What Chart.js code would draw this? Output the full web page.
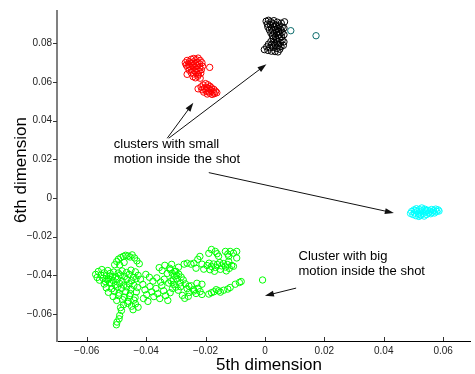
<!DOCTYPE html>
<html>
<head>
<meta charset="utf-8">
<script src="https://cdn.jsdelivr.net/npm/chart.js@4.4.1/dist/chart.umd.min.js"></script>
<style>
  html, body { margin: 0; padding: 0; background: #fff; overflow: hidden; }
  canvas { display: block; }
</style>
</head>
<body>
<canvas id="chart" width="475" height="374"></canvas>
<script>
// ---- data (5th / 6th dimension coordinates) ----
const xTicks = [-0.06, -0.04, -0.02, 0, 0.02, 0.04, 0.06];
const yTicks = [-0.06, -0.04, -0.02, 0, 0.02, 0.04, 0.06, 0.08];

const blackPts = [
  [0.0004,0.0915],[0.0012,0.0920],[0.0020,0.0912],[0.0030,0.0918],[0.0042,0.0910],[0.0055,0.0905],
  [0.0008,0.0900],[0.0018,0.0898],[0.0028,0.0902],[0.0038,0.0895],[0.0048,0.0890],[0.0058,0.0885],
  [0.0010,0.0885],[0.0022,0.0880],[0.0032,0.0886],[0.0044,0.0878],[0.0054,0.0870],
  [0.0015,0.0870],[0.0026,0.0866],[0.0036,0.0872],[0.0046,0.0862],[0.0058,0.0858],
  [0.0020,0.0855],[0.0030,0.0852],[0.0040,0.0856],[0.0050,0.0848],
  [0.0025,0.0840],[0.0035,0.0836],[0.0045,0.0840],[0.0056,0.0834],
  [0.0028,0.0825],[0.0038,0.0820],[0.0048,0.0826],[0.0058,0.0818],
  [0.0020,0.0810],[0.0030,0.0806],[0.0042,0.0810],[0.0052,0.0804],
  [0.0012,0.0796],[0.0022,0.0792],[0.0034,0.0796],[0.0046,0.0790],[0.0054,0.0784],
  [0.0006,0.0782],[0.0016,0.0778],[0.0028,0.0780],[0.0040,0.0774],[0.0050,0.0770],
  [-0.0002,0.0768],[0.0010,0.0764],[0.0022,0.0760],[0.0034,0.0758],[0.0044,0.0756],
  [0.0064,0.0808],[0.0064,0.0880],[0.0066,0.0912],[0.0062,0.0790],[0.0064,0.0845]
];

const tealPts = [[0.0087,0.0866],[0.0172,0.0840]];

const redPts = [
  [-0.0268,0.0700],[-0.0262,0.0712],[-0.0255,0.0705],[-0.0248,0.0718],[-0.0240,0.0722],[-0.0232,0.0716],[-0.0225,0.0724],[-0.0218,0.0712],
  [-0.0265,0.0688],[-0.0258,0.0692],[-0.0250,0.0698],[-0.0242,0.0704],[-0.0235,0.0696],[-0.0228,0.0702],[-0.0220,0.0694],[-0.0212,0.0700],
  [-0.0260,0.0676],[-0.0252,0.0680],[-0.0244,0.0684],[-0.0236,0.0678],[-0.0228,0.0684],[-0.0220,0.0676],[-0.0210,0.0682],
  [-0.0255,0.0662],[-0.0246,0.0666],[-0.0238,0.0660],[-0.0230,0.0666],[-0.0222,0.0658],[-0.0214,0.0664],
  [-0.0262,0.0640],[-0.0248,0.0648],[-0.0240,0.0642],[-0.0232,0.0650],[-0.0224,0.0640],[-0.0216,0.0646],
  [-0.0242,0.0628],[-0.0234,0.0622],[-0.0226,0.0630],[-0.0218,0.0620],
  [-0.0186,0.0676],
  [-0.0225,0.0565],[-0.0215,0.0575],[-0.0208,0.0585],[-0.0200,0.0592],[-0.0192,0.0586],[-0.0185,0.0578],
  [-0.0212,0.0560],[-0.0204,0.0568],[-0.0196,0.0572],[-0.0188,0.0566],[-0.0180,0.0570],[-0.0172,0.0562],
  [-0.0206,0.0548],[-0.0198,0.0554],[-0.0190,0.0550],[-0.0182,0.0556],[-0.0174,0.0548],[-0.0166,0.0552],
  [-0.0194,0.0538],[-0.0186,0.0542],[-0.0178,0.0536],[-0.0170,0.0540],[-0.0162,0.0545]
];

const cyanPts = [
  [0.0490,-0.0080],[0.0494,-0.0070],[0.0498,-0.0086],[0.0502,-0.0062],[0.0504,-0.0078],[0.0508,-0.0092],
  [0.0510,-0.0056],[0.0513,-0.0070],[0.0516,-0.0084],[0.0518,-0.0096],[0.0520,-0.0060],[0.0523,-0.0074],
  [0.0526,-0.0088],[0.0528,-0.0052],[0.0530,-0.0066],[0.0533,-0.0080],[0.0536,-0.0094],[0.0538,-0.0058],
  [0.0541,-0.0072],[0.0544,-0.0086],[0.0548,-0.0064],[0.0551,-0.0078],[0.0555,-0.0068],[0.0558,-0.0082],
  [0.0561,-0.0060],[0.0564,-0.0074],[0.0568,-0.0066],[0.0571,-0.0078],[0.0575,-0.0058],[0.0578,-0.0070],
  [0.0583,-0.0062],[0.0586,-0.0068],[0.0508,-0.0066],[0.0523,-0.0090],[0.0543,-0.0064]
];

const greenPts = [
  // left group
  [-0.0570,-0.0396],[-0.0565,-0.0412],[-0.0561,-0.0381],[-0.0557,-0.0426],[-0.0552,-0.0399],[-0.0549,-0.0371],[-0.0545,-0.0416],[-0.0541,-0.0388],
  [-0.0537,-0.0433],[-0.0534,-0.0403],[-0.0529,-0.0376],[-0.0526,-0.0419],[-0.0521,-0.0391],[-0.0517,-0.0441],[-0.0513,-0.0407],
  // top arc
  [-0.0506,-0.0346],[-0.0499,-0.0329],[-0.0493,-0.0317],[-0.0485,-0.0309],[-0.0477,-0.0303],[-0.0469,-0.0297],[-0.0461,-0.0301],
  [-0.0454,-0.0306],[-0.0447,-0.0295],[-0.0439,-0.0311],[-0.0431,-0.0326],[-0.0423,-0.0341],[-0.0489,-0.0347],[-0.0474,-0.0334],
  // middle
  [-0.0509,-0.0384],[-0.0494,-0.0389],[-0.0481,-0.0378],[-0.0466,-0.0386],[-0.0451,-0.0374],[-0.0436,-0.0383],
  [-0.0521,-0.0404],[-0.0502,-0.0409],[-0.0487,-0.0399],[-0.0473,-0.0407],[-0.0457,-0.0396],[-0.0443,-0.0411],[-0.0427,-0.0401],
  [-0.0531,-0.0424],[-0.0511,-0.0428],[-0.0496,-0.0421],[-0.0481,-0.0431],[-0.0465,-0.0422],[-0.0449,-0.0429],[-0.0434,-0.0419],
  [-0.0541,-0.0446],[-0.0523,-0.0441],[-0.0504,-0.0450],[-0.0489,-0.0443],[-0.0475,-0.0452],[-0.0457,-0.0444],[-0.0441,-0.0453],
  [-0.0534,-0.0466],[-0.0516,-0.0471],[-0.0497,-0.0462],[-0.0483,-0.0469],[-0.0465,-0.0461],[-0.0451,-0.0473],[-0.0429,-0.0464],
  [-0.0527,-0.0489],[-0.0507,-0.0484],[-0.0491,-0.0493],[-0.0469,-0.0486],[-0.0453,-0.0495],[-0.0433,-0.0487],
  [-0.0511,-0.0511],[-0.0493,-0.0506],[-0.0473,-0.0514],[-0.0456,-0.0508],[-0.0437,-0.0516],
  [-0.0499,-0.0531],[-0.0479,-0.0527],[-0.0461,-0.0535],[-0.0441,-0.0529],
  // tail
  [-0.0476,-0.0553],[-0.0486,-0.0568],[-0.0483,-0.0583],[-0.0489,-0.0609],[-0.0491,-0.0626],[-0.0498,-0.0643],[-0.0500,-0.0657],
  [-0.0462,-0.0546],[-0.0449,-0.0561],[-0.0436,-0.0549],[-0.0427,-0.0566],[-0.0444,-0.0579],
  // loop right of the middle
  [-0.0419,-0.0421],[-0.0411,-0.0448],[-0.0404,-0.0476],[-0.0398,-0.0501],[-0.0409,-0.0521],[-0.0394,-0.0536],
  [-0.0387,-0.0459],[-0.0381,-0.0486],[-0.0374,-0.0511],[-0.0367,-0.0469],[-0.0361,-0.0496],[-0.0354,-0.0521],
  [-0.0347,-0.0454],[-0.0341,-0.0481],[-0.0334,-0.0506],[-0.0327,-0.0531],[-0.0319,-0.0491],[-0.0311,-0.0469],
  [-0.0356,-0.0361],[-0.0346,-0.0376],[-0.0337,-0.0349],[-0.0329,-0.0391],[-0.0321,-0.0364],[-0.0314,-0.0344],
  [-0.0304,-0.0381],[-0.0297,-0.0401],[-0.0291,-0.0359],
  [-0.0401,-0.0396],[-0.0389,-0.0411],[-0.0377,-0.0431],[-0.0364,-0.0414],[-0.0351,-0.0436],[-0.0339,-0.0421],[-0.0324,-0.0441],[-0.0309,-0.0426],
  // dense part near -0.03
  [-0.0318,-0.0372],[-0.0312,-0.0390],[-0.0305,-0.0405],[-0.0300,-0.0380],[-0.0296,-0.0420],[-0.0290,-0.0395],[-0.0285,-0.0440],
  [-0.0282,-0.0410],[-0.0316,-0.0430],[-0.0308,-0.0448],[-0.0300,-0.0462],[-0.0292,-0.0478],[-0.0284,-0.0460],
  [-0.0275,-0.0425],[-0.0268,-0.0445],[-0.0262,-0.0470],[-0.0255,-0.0490],[-0.0248,-0.0455],[-0.0240,-0.0475],[-0.0232,-0.0495],
  [-0.0225,-0.0468],[-0.0218,-0.0485],[-0.0212,-0.0500],[-0.0278,-0.0505],[-0.0270,-0.0520],[-0.0258,-0.0510],
  [-0.0229,-0.0442],[-0.0212,-0.0447],[-0.0239,-0.0482],[-0.0256,-0.0457],
  [-0.0272,-0.0343],[-0.0262,-0.0338],[-0.0249,-0.0343],[-0.0239,-0.0338],[-0.0232,-0.0364],[-0.0219,-0.0303],[-0.0212,-0.0343],
  [-0.0206,-0.0369],[-0.0226,-0.0318],
  // band around -0.035
  [-0.0195,-0.0350],[-0.0188,-0.0338],[-0.0180,-0.0355],[-0.0173,-0.0342],[-0.0166,-0.0360],[-0.0160,-0.0345],[-0.0152,-0.0335],
  [-0.0146,-0.0352],[-0.0140,-0.0340],[-0.0133,-0.0358],[-0.0126,-0.0345],[-0.0120,-0.0365],[-0.0112,-0.0350],[-0.0185,-0.0372],
  [-0.0170,-0.0380],[-0.0150,-0.0370],[-0.0130,-0.0378],
  // top right
  [-0.0189,-0.0287],[-0.0180,-0.0267],[-0.0167,-0.0277],[-0.0161,-0.0289],[-0.0133,-0.0277],[-0.0125,-0.0291],[-0.0117,-0.0277],
  [-0.0106,-0.0286],[-0.0095,-0.0277],[-0.0095,-0.0311],[-0.0122,-0.0302],[-0.0156,-0.0302],[-0.0122,-0.0329],[-0.0106,-0.0354],
  // diagonal strip
  [-0.0189,-0.0498],[-0.0172,-0.0486],[-0.0156,-0.0481],[-0.0139,-0.0478],[-0.0125,-0.0472],[-0.0117,-0.0464],[-0.0100,-0.0447],
  [-0.0086,-0.0438],[-0.0080,-0.0433],[-0.0180,-0.0491],[-0.0150,-0.0488],[-0.0164,-0.0475],
  // lone point
  [-0.0008,-0.0425]
];

// annotation texts and arrows (data coordinates)
const notes = [
  { lines: ['clusters with small', 'motion inside the shot'], x: -0.0509, y: 0.0279 },
  { lines: ['Cluster with big', 'motion inside the shot'], x: 0.0113, y: -0.0305 }
];
const arrows = [
  [-0.0329, 0.0309, -0.0241, 0.0493],
  [-0.0324, 0.0309, 0.0005, 0.0692],
  [-0.0189, 0.0131, 0.0434, -0.0078],
  [0.0105, -0.0467, 0.0000, -0.0507]
];

const FONT = "'Liberation Sans', Arial, Helvetica, sans-serif";

function fmt(v) {
  if (Math.abs(v) < 1e-9) return '0';
  return v.toFixed(2).replace('-', '\u2212');
}

function ds(pts, color) {
  return {
    data: pts.map(p => ({ x: p[0], y: p[1] })),
    borderColor: color,
    backgroundColor: 'rgba(0,0,0,0)',
    borderWidth: 1,
    pointRadius: 3.2,
    pointHoverRadius: 3.2
  };
}

const extras = {
  id: 'extras',
  afterDatasetsDraw(chart) {
    const { ctx, chartArea, scales } = chart;
    const xs = scales.x, ys = scales.y;
    ctx.save();

    // tick marks: y outward, x inward
    ctx.strokeStyle = '#333';
    ctx.lineWidth = 1;
    ctx.beginPath();
    yTicks.forEach(v => {
      const py = Math.round(ys.getPixelForValue(v)) + 0.5;
      ctx.moveTo(chartArea.left - 4, py);
      ctx.lineTo(chartArea.left, py);
    });
    xTicks.forEach(v => {
      const px = Math.round(xs.getPixelForValue(v)) + 0.5;
      ctx.moveTo(px, chartArea.bottom);
      ctx.lineTo(px, chartArea.bottom - 4);
    });
    ctx.stroke();

    // arrows
    ctx.strokeStyle = '#111';
    ctx.fillStyle = '#111';
    arrows.forEach(a => {
      const x1 = xs.getPixelForValue(a[0]), y1 = ys.getPixelForValue(a[1]);
      const x2 = xs.getPixelForValue(a[2]), y2 = ys.getPixelForValue(a[3]);
      const ang = Math.atan2(y2 - y1, x2 - x1);
      const len = 9, hw = 3;
      ctx.beginPath();
      ctx.moveTo(x1, y1);
      ctx.lineTo(x2 - Math.cos(ang) * len * 0.8, y2 - Math.sin(ang) * len * 0.8);
      ctx.stroke();
      ctx.beginPath();
      ctx.moveTo(x2, y2);
      ctx.lineTo(x2 - Math.cos(ang) * len - Math.sin(ang) * hw, y2 - Math.sin(ang) * len + Math.cos(ang) * hw);
      ctx.lineTo(x2 - Math.cos(ang) * len + Math.sin(ang) * hw, y2 - Math.sin(ang) * len - Math.cos(ang) * hw);
      ctx.closePath();
      ctx.fill();
    });

    // annotation text
    ctx.fillStyle = '#000';
    ctx.font = '13px ' + FONT;
    ctx.textAlign = 'left';
    ctx.textBaseline = 'middle';
    notes.forEach(n => {
      const px = xs.getPixelForValue(n.x), py = ys.getPixelForValue(n.y);
      n.lines.forEach((t, i) => ctx.fillText(t, px, py + i * 15));
    });

    // axis titles
    ctx.font = '17px ' + FONT;
    ctx.textAlign = 'center';
    ctx.fillText('5th dimension', (chartArea.left + 475) / 2 + 3, 365);
    ctx.translate(21, 170);
    ctx.rotate(-Math.PI / 2);
    ctx.fillText('6th dimension', 0, 0);
    ctx.restore();
  }
};

new Chart(document.getElementById('chart'), {
  type: 'scatter',
  data: {
    datasets: [
      ds(greenPts, '#00ff00'),
      ds(redPts, '#ff0000'),
      ds(blackPts, '#000000'),
      ds(tealPts, '#0b6b6b'),
      ds(cyanPts, '#00ffff')
    ]
  },
  options: {
    responsive: false,
    animation: false,
    events: [],
    layout: { padding: { left: 0, top: 6, right: 0, bottom: 0 } },
    plugins: { legend: { display: false }, tooltip: { enabled: false } },
    scales: {
      x: {
        type: 'linear',
        min: -0.07,
        max: 0.0693,
        afterBuildTicks: s => { s.ticks = xTicks.map(v => ({ value: v })); },
        afterFit: s => { s.height = 33; },
        grid: { display: false, drawTicks: false },
        border: { display: true, color: '#000', width: 1 },
        ticks: {
          autoSkip: false,
          maxRotation: 0,
          padding: 4,
          color: '#222',
          font: { family: FONT, size: 10 },
          callback: v => fmt(v)
        }
      },
      y: {
        type: 'linear',
        min: -0.0741,
        max: 0.0968,
        afterBuildTicks: s => { s.ticks = yTicks.map(v => ({ value: v })); },
        afterFit: s => { s.width = 57; },
        grid: { display: false, drawTicks: false },
        border: { display: true, color: '#808080', width: 2 },
        ticks: {
          autoSkip: false,
          padding: 5,
          color: '#222',
          font: { family: FONT, size: 10 },
          callback: v => fmt(v)
        }
      }
    }
  },
  plugins: [extras]
});
</script>
</body>
</html>
